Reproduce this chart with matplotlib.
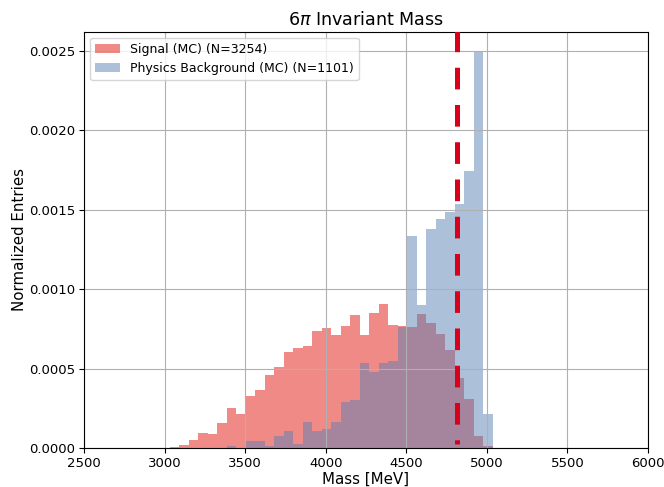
import numpy as np
import matplotlib
matplotlib.use("Agg")
import matplotlib.pyplot as plt

# Bin edges (MeV) shared by both histograms
bin_lo, bin_hi, n_bins = 3034.0, 5036.0, 34
edges = np.linspace(bin_lo, bin_hi, n_bins + 1)

# Normalized entries per bin
signal = [0.000010, 0.000023, 0.000050, 0.000098, 0.000088, 0.000159, 0.000255, 0.000218,
          0.000331, 0.000367, 0.000461, 0.000511, 0.000608, 0.000631, 0.000643, 0.000736,
          0.000757, 0.000714, 0.000767, 0.000838, 0.000713, 0.000849, 0.000906, 0.000775,
          0.000771, 0.000765, 0.000843, 0.000790, 0.000721, 0.000618, 0.000440, 0.000310,
          0.000080, 0.000015]
background = [0.0, 0.0, 0.0, 0.0, 0.0, 0.0, 0.000016, 0.0,
              0.000046, 0.000046, 0.000016, 0.000079, 0.000107, 0.000029, 0.000167, 0.000109,
              0.000121, 0.000167, 0.000289, 0.000304, 0.000535, 0.000478, 0.000538, 0.000551,
              0.000765, 0.001333, 0.000901, 0.001379, 0.001440, 0.001486, 0.001535, 0.001746,
              0.002494, 0.000214]

signal_label = "Signal (MC) (N=3254)"
background_label = "Physics Background (MC) (N=1101)"
cut_value = 4815
line_top, line_bottom = 0.00263, 0.00003

xticks = [2500, 3000, 3500, 4000, 4500, 5000, 5500, 6000]
yticks = [0.0, 0.0005, 0.0010, 0.0015, 0.0020, 0.0025]

centers = 0.5 * (edges[:-1] + edges[1:])

fig = plt.figure(figsize=(6.64, 4.87), dpi=100)
ax = fig.add_axes([0.1264, 0.0795, 0.8495, 0.8554])

ax.hist(centers, bins=edges, weights=signal, histtype="stepfilled",
        color="#E3160F", alpha=0.5, linewidth=0, label=signal_label)
ax.hist(centers, bins=edges, weights=background, histtype="stepfilled",
        color="#5A82B4", alpha=0.5, linewidth=0, label=background_label)

ax.plot([cut_value, cut_value], [line_top, line_bottom], color="#D9001B",
        linewidth=3.6, linestyle=(0, (4.33, 3.12)), zorder=5)

ax.set_xlim(2500, 6000)
ax.set_ylim(0, max(background) * 1.05)
ax.set_xticks(xticks)
ax.set_yticks(yticks)
ax.set_yticklabels([f"{v:.4f}" for v in yticks])
ax.tick_params(labelsize=9.5, pad=2.5)
ax.grid(True)

ax.set_title(r"6$\pi$ Invariant Mass", fontsize=12.6, pad=5)
ax.set_xlabel("Mass [MeV]", fontsize=10.8, labelpad=1.5)
ax.set_ylabel("Normalized Entries", fontsize=10.8, labelpad=2)
ax.legend(loc="upper left", fontsize=9)

fig.savefig("out.png", dpi=100)
